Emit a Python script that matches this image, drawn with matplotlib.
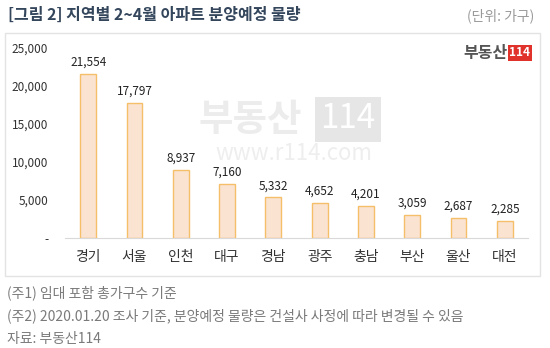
import matplotlib.pyplot as plt
from matplotlib.patches import Rectangle

plt.rcParams['font.family'] = ['Noto Sans CJK KR', 'DejaVu Sans']

regions = ['경기', '서울', '인천', '대구', '경남', '광주', '충남', '부산', '울산', '대전']
units = [21554, 17797, 8937, 7160, 5332, 4652, 4201, 3059, 2687, 2285]
yticks = [0, 5000, 10000, 15000, 20000, 25000]
ytick_labels = ['-', '5,000', '10,000', '15,000', '20,000', '25,000']
notes = ['(주1) 임대 포함 총가구수 기준',
         '(주2) 2020.01.20 조사 기준, 분양예정 물량은 건설사 사정에 따라 변경될 수 있음',
         '자료: 부동산114']

W, H = 550, 348
fig = plt.figure(figsize=(W / 100, H / 100), dpi=100)
fig.patch.set_facecolor('white')

# panel frame
fig.patches.append(Rectangle((5 / W, 1 - 276 / H), 535 / W, 243 / H,
                             transform=fig.transFigure, fill=False,
                             edgecolor='#e3e3e3', linewidth=1))

fig.text(8 / W, 1 - 15 / H, '[그림 2] 지역별 2~4월 아파트 분양예정 물량',
         fontsize=11.5, fontweight='bold', color='#34465c', va='center')
fig.text(534 / W, 1 - 16 / H, '(단위: 가구)', fontsize=10, color='#999999',
         va='center', ha='right')

# logo in the corner
fig.text(508 / W, 1 - 53 / H, '부동산', fontsize=11.5, fontweight='bold',
         color='#555555', va='center', ha='right')
fig.text(520 / W, 1 - 53 / H, '114', fontsize=8.5, fontweight='bold', color='white',
         va='center', ha='center',
         bbox=dict(boxstyle='square,pad=0.15', facecolor='#e0312b', edgecolor='none'))

# watermark
fig.text(250 / W, 1 - 119 / H, '부동산', fontsize=27, fontweight='bold',
         color='#ececec', ha='center', va='center', zorder=0)
fig.text(348 / W, 1 - 119 / H, '114', fontsize=24, color='white',
         ha='center', va='center', zorder=0,
         bbox=dict(boxstyle='square,pad=0.15', facecolor='#e6e6e6', edgecolor='none'))
fig.text(294 / W, 1 - 154 / H, 'www.r114.com', fontsize=16, color='#eeeeee',
         ha='center', va='center', zorder=0)

ax = fig.add_axes([65 / W, 1 - 238 / H, 463 / W, 190 / H])
ax.bar(range(len(regions)), units, width=0.34, color='#fbe3d2',
       edgecolor='#f5bf6a', linewidth=1, zorder=2)
for i, v in enumerate(units):
    ax.text(i, v + 700, f'{v:,}', ha='center', va='bottom', fontsize=8.5,
            color='#222222', zorder=3)

ax.set_xlim(-0.5, len(regions) - 0.5)
ax.set_ylim(0, 25000)
ax.set_yticks(yticks)
ax.set_yticklabels(ytick_labels)
ax.set_xticks(range(len(regions)))
ax.set_xticklabels(regions)
ax.tick_params(axis='both', length=0, labelsize=8.5, colors='#333333')
ax.tick_params(axis='x', labelsize=10, pad=9)
ax.tick_params(axis='y', pad=12)
for side in ['top', 'right', 'left']:
    ax.spines[side].set_visible(False)
ax.spines['bottom'].set_color('#d9d9d9')
ax.patch.set_alpha(0)

for k, note in enumerate(notes):
    fig.text(7 / W, 1 - (293 + 23 * k) / H, note, fontsize=10, color='#7a7a7a',
             va='center')

fig.savefig('out.png', dpi=100)
